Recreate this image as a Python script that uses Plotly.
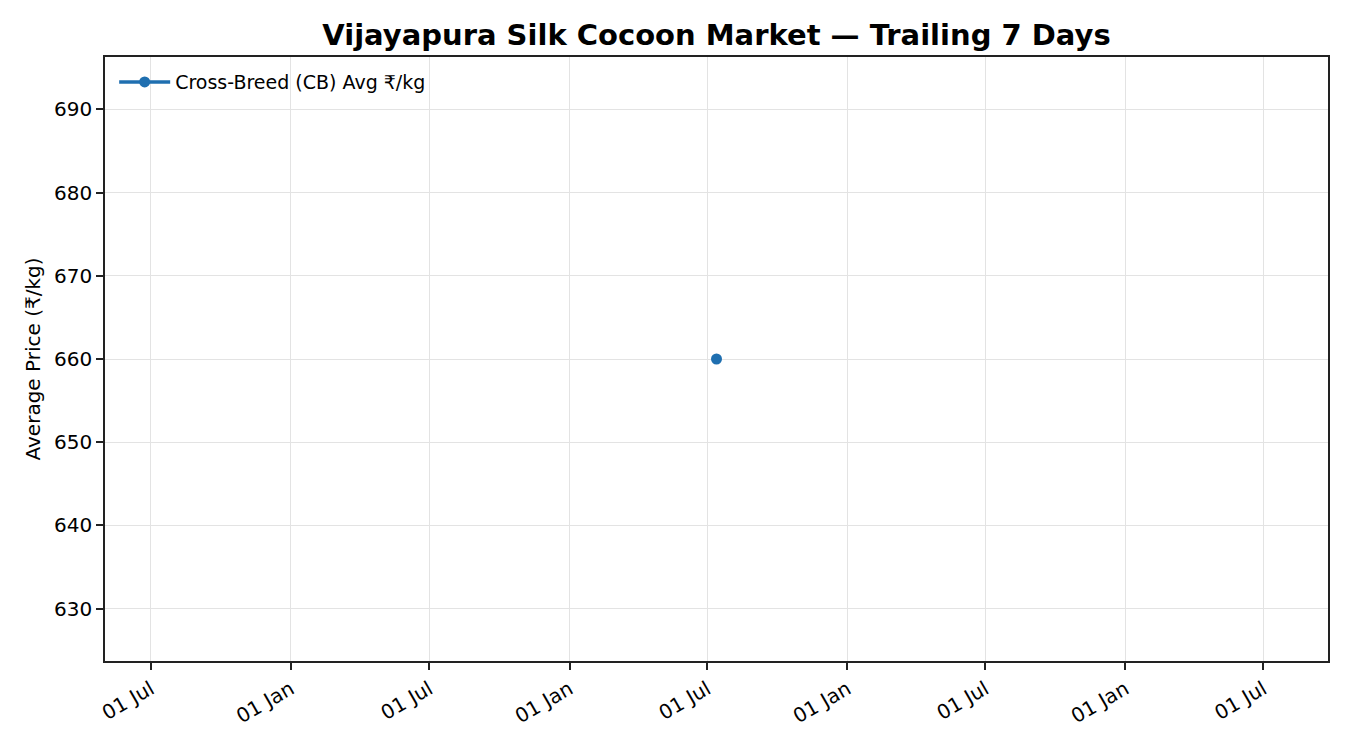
import pandas as pd
import plotly.graph_objects as go

dates = ["2025-07-13"]
cb_avg_price = [660]
series_name = "Cross-Breed (CB) Avg ₹/kg"
title_text = "Vijayapura Silk Cocoon Market — Trailing 7 Days"
y_label = "Average Price (₹/kg)"

center = pd.Timestamp(dates[0])
half = pd.Timedelta(days=803)
xr = [(center - half).strftime("%Y-%m-%d %H:%M"), (center + half).strftime("%Y-%m-%d %H:%M")]
yc = cb_avg_price[0]
yr = [yc - 0.055 * yc, yc + 0.055 * yc]

FONT = "DejaVu Sans"
fig = go.Figure()
fig.add_trace(go.Scatter(
    x=dates, y=cb_avg_price, mode="lines+markers", name=series_name,
    line=dict(color="#1f6fb0", width=3.5),
    marker=dict(color="#1f6fb0", size=11),
    showlegend=True,
))

axis_common = dict(
    showline=True, linecolor="#222222", linewidth=1.6, mirror=True,
    ticks="outside", ticklen=7, tickwidth=1.6, tickcolor="#222222",
    showgrid=True, gridcolor="#e3e3e3", gridwidth=1,
    zeroline=False,
    tickfont=dict(family=FONT, size=20, color="#000000"),
)

fig.update_layout(
    width=1350, height=750,
    paper_bgcolor="white", plot_bgcolor="white",
    margin=dict(l=97, r=30, t=49, b=97),
    title=dict(text="<b>" + title_text + "</b>", x=0.5, xanchor="center", xref="paper",
               y=1 - 27 / 750, yanchor="middle", yref="container",
               font=dict(family=FONT, size=29, color="#000000")),
    xaxis=dict(type="date", range=xr, tick0="2000-01-01", dtick="M6",
               tickformat="%d %b", tickangle=-30, **axis_common),
    yaxis=dict(range=yr, dtick=10, title=dict(text=y_label, standoff=8,
               font=dict(family=FONT, size=20, color="#000000")), **axis_common),
    legend=dict(x=0.0075, y=0.99, xanchor="left", yanchor="top",
                bgcolor="rgba(0,0,0,0)", borderwidth=0, itemwidth=51,
                font=dict(family=FONT, size=19, color="#000000")),
    font=dict(family=FONT),
)

fig.write_html("out.html")
